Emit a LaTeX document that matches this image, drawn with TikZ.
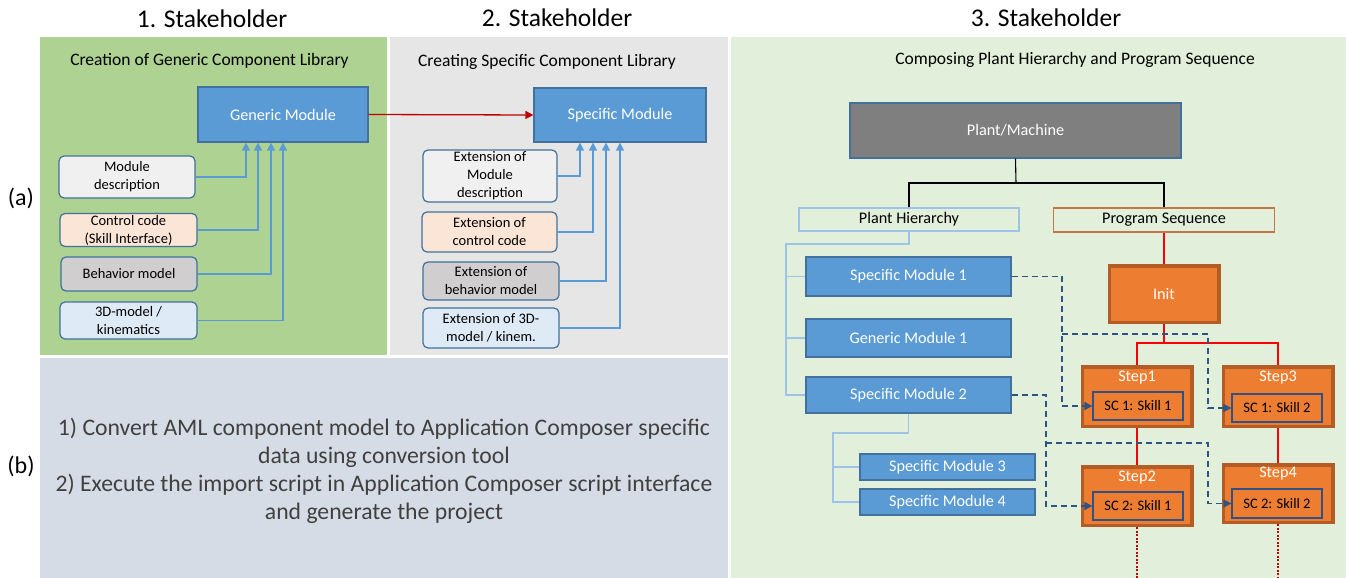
\documentclass[tikz,border=0pt]{standalone}
\usepackage{fontspec}
\setmainfont{Carlito}
\usetikzlibrary{arrows.meta,calc}
\definecolor{pgreen}{RGB}{174,210,145}
\definecolor{pgrey}{RGB}{231,230,230}
\definecolor{pbottom}{RGB}{214,220,229}
\definecolor{pright}{RGB}{226,239,218}
\definecolor{modblue}{RGB}{91,155,213}
\definecolor{bordblue}{RGB}{65,113,156}
\definecolor{lineblue}{RGB}{91,155,213}
\definecolor{treeblue}{RGB}{157,195,230}
\definecolor{fdesc}{RGB}{240,240,240}
\definecolor{fcode}{RGB}{251,229,214}
\definecolor{fbeh}{RGB}{208,206,206}
\definecolor{fkin}{RGB}{222,235,247}
\definecolor{pmgrey}{RGB}{127,127,127}
\definecolor{orfill}{RGB}{237,125,49}
\definecolor{orbord}{RGB}{180,92,38}
\definecolor{psbord}{RGB}{197,120,70}
\definecolor{scbord}{RGB}{50,80,130}
\definecolor{dashblue}{RGB}{46,84,130}
\definecolor{darkred}{RGB}{192,0,0}
\definecolor{brightred}{RGB}{255,0,0}
\definecolor{textgrey}{RGB}{64,64,64}
\newcommand\fsH{\fontsize{25.5}{30}\selectfont}
\newcommand\fsT{\fontsize{17.5}{21}\selectfont}
\newcommand\fsB{\fontsize{16.2}{19.5}\selectfont}
\newcommand\fsS{\fontsize{14.5}{18}\selectfont}
\newcommand\fsD{\fontsize{23.7}{27.8}\selectfont}
\newcommand\fsL{\fontsize{24}{28}\selectfont}
\tikzset{
  blk/.style={draw=bordblue, fill=modblue, line width=1.2pt, text=white, font=\fsB, inner sep=0pt},
  srcbox/.style={draw=bordblue, rounded corners=5pt, line width=1.2pt, font=\fsS, align=center, inner sep=0pt, minimum width=136pt},
  conn/.style={draw=lineblue, line width=1.3pt, -{Triangle[width=8pt,length=8pt]}},
  redarrow/.style={draw=darkred, line width=1.3pt, -{Triangle[width=8pt,length=8pt]}},
  treeline/.style={draw=treeblue, line width=1.4pt},
  blackline/.style={draw=black, line width=1.1pt},
  redline/.style={draw=brightred, line width=1.7pt},
  reddash/.style={draw=darkred, line width=1.2pt, dash pattern=on 2pt off 1.5pt},
  dconn/.style={draw=dashblue, line width=1.5pt, dash pattern=on 6pt off 4pt, -{Triangle[width=8pt,length=8pt]}},
  stepbox/.style={draw=orbord, fill=orfill, line width=3.5pt, minimum width=109.5pt, inner sep=0pt},
  scbox/.style={draw=scbord, fill=orfill, line width=1.2pt, minimum width=90pt, minimum height=28pt, inner sep=0pt, font=\fsS},
  steptitle/.style={text=white, font=\fsB, inner sep=0pt},
  hdr/.style={font=\fsH, inner sep=0pt},
  ttl/.style={font=\fsT, inner sep=0pt},
}
\begin{document}
\begin{tikzpicture}[x=1pt,y=-1pt]
\useasboundingbox (0,0) rectangle (1346,578);
\fill[white] (0,0) rectangle (1346,578);
% panels
\fill[pgreen] (40,37) rectangle (387,355);
\fill[pgrey] (390,37) rectangle (728,355);
\fill[pbottom] (40,358) rectangle (728,578);
\fill[pright] (731,37) rectangle (1346,578);
% headers
\node[hdr] (h1) at (212,19) {1. Stakeholder};
\node[hdr] (h2) at (557,18) {2. Stakeholder};
\node[hdr] (h3) at (1046,18) {3. Stakeholder};
\node[font=\fsL, inner sep=0pt] (la) at (21,198) {(a)};
\node[font=\fsL, inner sep=0pt] (lb) at (21,466) {(b)};
% titles
\node[ttl] (t1) at (209.5,61) {Creation of Generic Component Library};
\node[ttl] (t2) at (547,62) {Creating Specific Component Library};
\node[ttl] (t3) at (1075,60) {Composing Plant Hierarchy and Program Sequence};
% stakeholder 1
\node[blk, minimum width=170pt, minimum height=55pt] (gm) at (283,114.5) {Generic Module};
\node[srcbox, fill=fdesc, minimum height=42pt] (md) at (127,177) {Module\\description};
\node[srcbox, fill=fcode, minimum width=137pt, minimum height=33pt] (cc) at (128.5,230) {Control code\\(Skill Interface)};
\node[srcbox, fill=fbeh, minimum height=34pt] (bm) at (129,274) {Behavior model};
\node[srcbox, fill=fkin, minimum width=137pt, minimum height=37pt] (km) at (128.5,320.5) {3D-model /\\kinematics};
\draw[conn] (md.east) -| ([xshift=-37pt]gm.south);
\draw[conn] (cc.east) -| ([xshift=-25pt]gm.south);
\draw[conn] (bm.east) -| ([xshift=-12pt]gm.south);
\draw[conn] (km.east) -| (gm.south);
% stakeholder 2
\node[blk, minimum width=172pt, minimum height=54pt] (sm) at (620,115) {Specific Module};
\node[srcbox, fill=fdesc, minimum width=134pt, minimum height=52pt] (e1) at (490,176) {Extension of\\Module\\description};
\node[srcbox, fill=fcode, minimum width=135pt, minimum height=40pt] (e2) at (489.5,232) {Extension of\\control code};
\node[srcbox, fill=fbeh, minimum height=38pt] (e3) at (491,281) {Extension of\\behavior model};
\node[srcbox, fill=fkin, minimum height=40pt] (e4) at (491,328) {Extension of 3D-\\model / kinem.};
\draw[conn] (e1.east) -| ([xshift=-40pt]sm.south);
\draw[conn] (e2.east) -| ([xshift=-27pt]sm.south);
\draw[conn] (e3.east) -| ([xshift=-14pt]sm.south);
\draw[conn] (e4.east) -| (sm.south);
\draw[redarrow] (gm.east) -- (sm.west);
% bottom text
\node[font=\fsD, text=textgrey, align=center, inner sep=0pt] (btxt) at (384,471) {1) Convert AML component model to Application Composer specific\\data using conversion tool\\2) Execute the import script in Application Composer script interface\\and generate the project};
% stakeholder 3
\node[draw=bordblue, fill=pmgrey, line width=1.2pt, text=white, font=\fsB, minimum width=331pt, minimum height=55pt, inner sep=0pt] (pm) at (1015.5,130.5) {Plant/Machine};
\node[draw=treeblue, line width=1.4pt, font=\fsB, minimum width=220pt, minimum height=23pt, inner sep=0pt] (ph) at (909,219.5) {Plant Hierarchy};
\node[draw=psbord, line width=1.4pt, font=\fsB, minimum width=221pt, minimum height=24pt, inner sep=0pt] (ps) at (1164,220) {Program Sequence};
\coordinate (j1) at (1016,183);
\draw[blackline] (pm.south) -- (j1);
\draw[blackline] (j1) -| (ph.north);
\draw[blackline] (j1) -| (ps.north);
\node[blk, minimum width=205pt, minimum height=39pt] (sm1) at (908.5,276.5) {Specific Module 1};
\node[blk, minimum width=205pt, minimum height=38pt] (gm1) at (908.5,338) {Generic Module 1};
\node[blk, minimum width=205pt, minimum height=36pt] (sm2) at (908.5,395) {Specific Module 2};
\node[blk, minimum width=175pt, minimum height=26pt] (sm3) at (947.5,467) {Specific Module 3};
\node[blk, minimum width=175pt, minimum height=26pt] (sm4) at (947.5,502) {Specific Module 4};
\coordinate (tr1) at (786,244);
\draw[treeline] (ph.south) -- (ph.south |- tr1) -- (tr1) -- (tr1 |- sm2.west) -- (sm2.west);
\draw[treeline] (tr1 |- sm1.west) -- (sm1.west);
\draw[treeline] (tr1 |- gm1.west) -- (gm1.west);
\coordinate (tr2) at (833,433);
\draw[treeline] (sm2.south) -- (sm2.south |- tr2) -- (tr2) -- (tr2 |- sm4.west) -- (sm4.west);
\draw[treeline] (tr2 |- sm3.west) -- (sm3.west);
% program sequence
\node[stepbox, minimum height=56.5pt, text=white, font=\fsB] (init) at (1164,294) {Init};
\draw[redline] (ps.south) -- (init.north);
\node[stepbox, minimum height=59.5pt] (step1) at (1137,396.5) {};
\node[stepbox, minimum height=59.5pt] (step3) at (1278,396.5) {};
\node[stepbox, minimum height=58.5pt] (step2) at (1137,496) {};
\node[stepbox, minimum height=57.5pt] (step4) at (1278,493.5) {};
\coordinate (j2) at (1164,343);
\draw[redline] (init.south) -- (j2);
\draw[redline] (j2) -| (step1.north);
\draw[redline] (j2) -| (step3.north);
\draw[redline] (step1.south) -- (step2.north);
\draw[redline] (step3.south) -- (step4.north);
\node[steptitle] (st1) at (1137,378) {Step1};
\node[steptitle] (st3) at (1278,378) {Step3};
\node[steptitle] (st2) at (1137,478) {Step2};
\node[steptitle] (st4) at (1278,474) {Step4};
\node[scbox] (sc11) at (1138,406) {SC 1: Skill 1};
\node[scbox] (sc12) at (1277,408) {SC 1: Skill 2};
\node[scbox] (sc21) at (1138,506) {SC 2: Skill 1};
\node[scbox, minimum height=29pt] (sc22) at (1277,503.5) {SC 2: Skill 2};
\coordinate (bt) at (0,578);
\draw[reddash] (step2.south) -- (step2.south |- bt);
\draw[reddash] (step4.south) -- (step4.south |- bt);
% dashed links
\coordinate (d1) at (1062,276.5);
\coordinate (d1b) at (1062,334);
\coordinate (d1c) at (1208,334);
\draw[dconn] (sm1.east) -- (d1) |- (sc11.west);
\draw[dconn] (d1b) -- (d1c) |- (sc12.west);
\coordinate (d2) at (1046,395);
\coordinate (d2b) at (1046,443);
\coordinate (d2c) at (1208,443);
\draw[dconn] (sm2.east) -- (d2) |- (sc21.west);
\draw[dconn] (d2b) -- (d2c) |- (sc22.west);
\end{tikzpicture}
\end{document}
